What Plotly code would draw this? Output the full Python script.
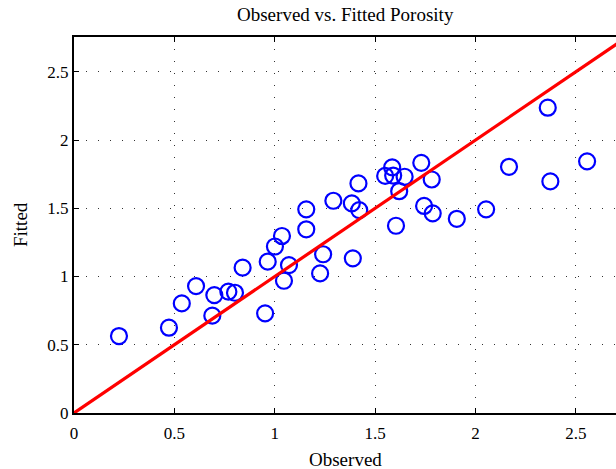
import plotly.graph_objects as go

observed = [0.224, 0.473, 0.537, 0.608, 0.689, 0.699, 0.769, 0.802, 0.840, 0.952,
            0.965, 1.001, 1.036, 1.046, 1.071, 1.157, 1.157, 1.226, 1.241, 1.292,
            1.384, 1.389, 1.417, 1.421, 1.550, 1.585, 1.590, 1.604, 1.620, 1.647,
            1.730, 1.744, 1.782, 1.787, 1.907, 2.053, 2.167, 2.360, 2.373, 2.556]
fitted = [0.564, 0.625, 0.803, 0.930, 0.713, 0.864, 0.889, 0.881, 1.065, 0.730,
          1.109, 1.220, 1.297, 0.969, 1.084, 1.346, 1.492, 1.023, 1.163, 1.555,
          1.536, 1.133, 1.682, 1.487, 1.737, 1.800, 1.740, 1.372, 1.625, 1.731,
          1.833, 1.517, 1.711, 1.463, 1.423, 1.492, 1.804, 2.237, 1.697, 1.844]
line_x = [0, 3]
line_y = [0, 3]
tick_vals = [0, 0.5, 1, 1.5, 2, 2.5]
tick_text = ["0", "0.5", "1", "1.5", "2", "2.5"]

FONT = "Liberation Serif, Times New Roman, serif"

fig = go.Figure()
fig.add_trace(go.Scatter(x=observed, y=fitted, mode="markers",
                         marker=dict(symbol="circle-open", size=16, color="#0000ff",
                                     line=dict(width=2.2, color="#0000ff")),
                         showlegend=False))
fig.add_trace(go.Scatter(x=line_x, y=line_y, mode="lines",
                         line=dict(color="#ff0000", width=3.2),
                         showlegend=False))

axis_common = dict(
    tickvals=tick_vals, ticktext=tick_text,
    ticks="inside", ticklen=5, tickwidth=1, tickcolor="black",
    showline=True, linecolor="black", linewidth=2,
    showgrid=True, gridcolor="#333333", gridwidth=1, griddash="1px,11px",
    zeroline=False,
    tickfont=dict(family=FONT, size=17, color="black"),
)

fig.update_xaxes(range=[0, 2.70], mirror="ticks", ticklabelstandoff=4, **axis_common)
fig.update_yaxes(range=[0, 2.755], mirror=False, **axis_common)

fig.update_layout(
    width=616, height=469,
    margin=dict(l=74, r=0, t=37, b=56),
    plot_bgcolor="white", paper_bgcolor="white",
    annotations=[
        dict(text="Observed vs. Fitted Porosity", xref="paper", yref="paper",
             x=0.5, y=1, yanchor="middle", xanchor="center", yshift=23,
             showarrow=False, font=dict(family=FONT, size=19, color="black")),
        dict(text="Observed", xref="paper", yref="paper", x=0.5, y=0,
             yanchor="middle", xanchor="center", yshift=-46,
             showarrow=False, font=dict(family=FONT, size=19, color="black")),
        dict(text="Fitted", xref="paper", yref="paper", x=0, y=0.5,
             xanchor="center", yanchor="middle", xshift=-54,
             textangle=-90, showarrow=False,
             font=dict(family=FONT, size=19, color="black")),
    ],
)

fig.write_html(
    "out.html",
    config={"displayModeBar": False},
    post_script="document.body.style.margin='0';document.body.style.overflow='hidden';",
)
